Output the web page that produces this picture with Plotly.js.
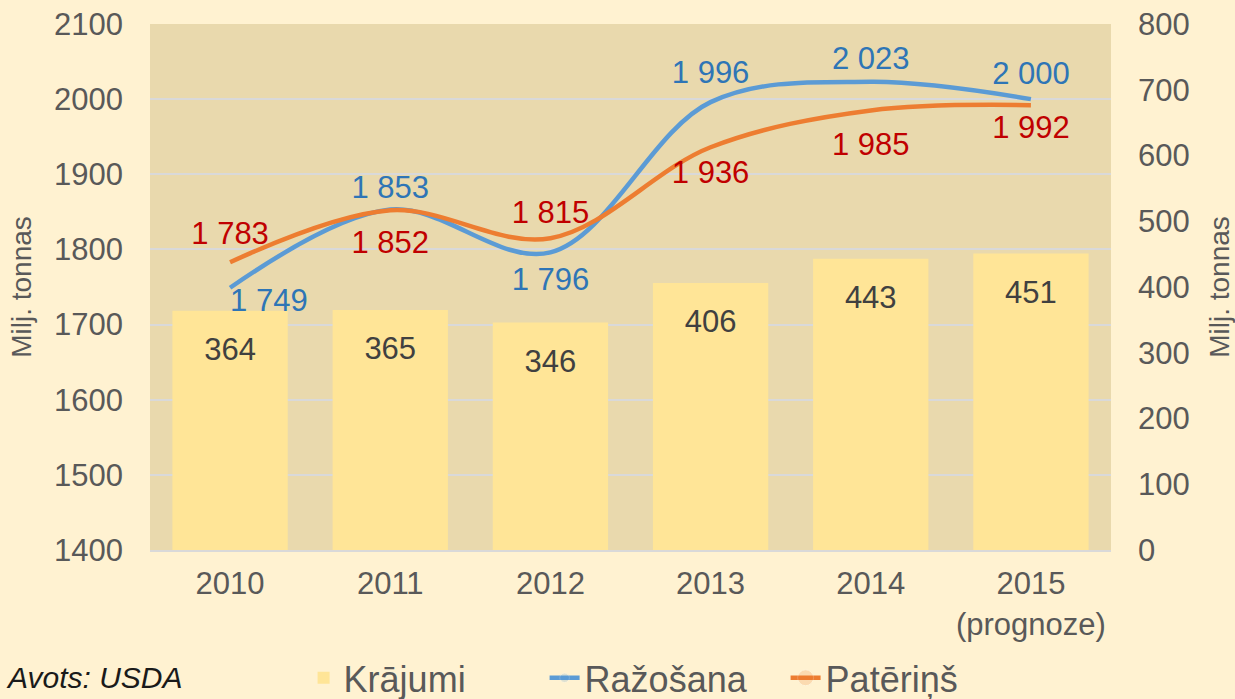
<!DOCTYPE html>
<html>
<head>
<meta charset="utf-8">
<script src="https://cdn.plot.ly/plotly-3.0.1.min.js"></script>
<style>html,body{margin:0;padding:0;background:#FFF2D1;}#chart{width:1235px;height:699px;}</style>
</head>
<body>
<div id="chart"></div>
<script>
var categories = ['2010', '2011', '2012', '2013', '2014', '2015'];
var tickLabels = ['2010', '2011', '2012', '2013', '2014', '2015<br>(prognoze)'];
var krajumi = [364, 365, 346, 406, 443, 451];
var razosana = [1749, 1853, 1796, 1996, 2023, 2000];
var paterins = [1783, 1852, 1815, 1936, 1985, 1992];
var seriesNames = ['Krājumi', 'Ražošana', 'Patēriņš'];
var axisTitle = 'Milj. tonnas';
var sourceText = 'Avots: USDA';

function fmt(v) { return String(v).replace(/\B(?=(\d{3})+(?!\d))/g, ' '); }

var FONT = 'Liberation Sans, Arial, sans-serif';
var GRAY = '#595959';
var FS = 31;

// label placement styling (invisible marker sizes set the label offsets)
var bluePos = ['bottom right', 'top center', 'bottom center', 'top center', 'top center', 'top center'];
var blueGap = [0, 4.8, 20.8, 16, 6.4, 9.6];
var orangePos = ['top center', 'bottom center', 'top center', 'bottom center', 'bottom center', 'bottom center'];
var orangeGap = [14.4, 30, 9.6, 19, 32, 14.4];

var bars = {
  type: 'bar', name: seriesNames[0], x: categories, y: krajumi, yaxis: 'y',
  marker: {color: '#FFE597'}, hoverinfo: 'x+y'
};
var barLabels = {
  type: 'scatter', mode: 'markers+text', x: categories, y: krajumi, yaxis: 'y', showlegend: false,
  text: krajumi.map(String), textposition: 'bottom center', marker: {size: 40, opacity: 0},
  textfont: {family: FONT, size: FS, color: '#404040'}, hoverinfo: 'skip', cliponaxis: false
};
var blue = {
  type: 'scatter', mode: 'lines+markers+text', name: seriesNames[1], x: categories, y: razosana, yaxis: 'y2',
  line: {color: '#5B9BD5', width: 4.5, shape: 'spline', smoothing: 1},
  marker: {size: blueGap, opacity: 0},
  text: razosana.map(fmt), textposition: bluePos,
  textfont: {family: FONT, size: FS, color: '#2E75B6'}, cliponaxis: false
};
var orange = {
  type: 'scatter', mode: 'lines+markers+text', name: seriesNames[2], x: categories, y: paterins, yaxis: 'y2',
  line: {color: '#ED7D31', width: 4.5, shape: 'spline', smoothing: 1},
  marker: {size: orangeGap, opacity: 0},
  text: paterins.map(fmt), textposition: orangePos,
  textfont: {family: FONT, size: FS, color: '#C00000'}, cliponaxis: false
};

var layout = {
  width: 1235, height: 699,
  paper_bgcolor: '#FFF2D1', plot_bgcolor: '#E9D9AD',
  margin: {l: 150, r: 124, t: 24, b: 149, autoexpand: false},
  font: {family: FONT, color: GRAY, size: FS},
  showlegend: true,
  bargap: 0.28,
  legend: {orientation: 'h', x: 0.536, xanchor: 'center', y: -0.186, yanchor: 'top',
           entrywidth: 196, entrywidthmode: 'pixels',
           font: {family: FONT, size: 36, color: GRAY}, traceorder: 'normal', bgcolor: 'rgba(0,0,0,0)'},
  xaxis: {type: 'category', tickvals: categories, ticktext: tickLabels, showgrid: false, automargin: false,
          showline: true, linecolor: '#D9D9D9', linewidth: 2, ticks: '', ticklabelstandoff: 5,
          tickfont: {family: FONT, size: FS, color: GRAY}},
  yaxis: {side: 'right', range: [0, 800], dtick: 100, showgrid: false, zeroline: false, ticks: '', automargin: false,
          ticklabelstandoff: 26, tickfont: {family: FONT, size: FS, color: GRAY},
          title: {text: axisTitle, font: {family: FONT, size: 28, color: GRAY}, standoff: 21}},
  yaxis2: {side: 'left', overlaying: 'y', range: [1400, 2100], dtick: 100, showgrid: true, automargin: false,
           gridcolor: '#D9D9D9', gridwidth: 1.5, zeroline: false, ticks: '', ticklabelstandoff: 26,
           tickfont: {family: FONT, size: FS, color: GRAY},
           title: {text: axisTitle, font: {family: FONT, size: 28, color: GRAY}, standoff: 14}},
  annotations: [{
    text: sourceText, xref: 'paper', yref: 'paper', x: -0.152, y: -0.243, xanchor: 'left', yanchor: 'middle',
    showarrow: false, font: {family: FONT, size: 30, color: '#1A1A1A', style: 'italic'}
  }]
};

Plotly.newPlot('chart', [bars, barLabels, blue, orange], layout, {displayModeBar: false});
</script>
</body>
</html>
